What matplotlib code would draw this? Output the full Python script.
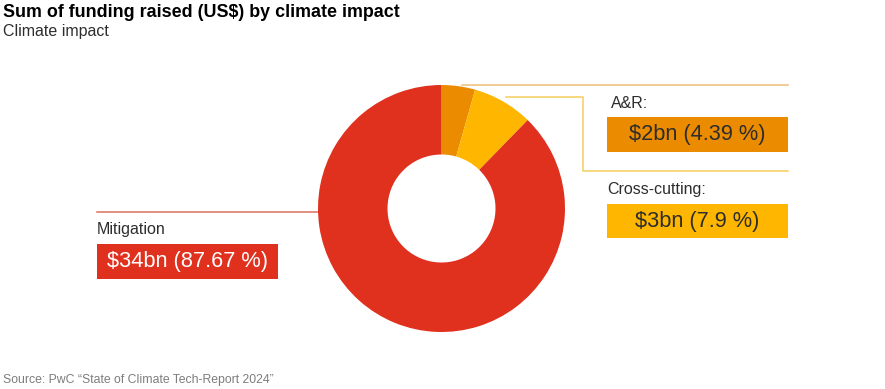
import matplotlib
matplotlib.use("Agg")
import matplotlib.pyplot as plt
import numpy as np
from matplotlib.patches import Rectangle

# data
categories = ["A&R", "Cross-cutting", "Mitigation"]
shares = [4.39, 7.9, 87.67]
amounts = ["$2bn", "$3bn", "$34bn"]
share_labels = ["4.39 %", "7.9 %", "87.67 %"]

RED = "#E0301E"
ORANGE = "#EB8C00"
YELLOW = "#FFB600"
colors = [ORANGE, YELLOW, RED]
TEXT = "#2D2D2D"

W, H = 885, 389
plt.rcParams["font.family"] = ["Liberation Sans", "DejaVu Sans"]

fig = plt.figure(figsize=(W / 100, H / 100), dpi=100, facecolor="white")
ax = fig.add_axes([0, 0, 1, 1])

cx, cy, R = 441.5, H - 208.5, 123.5
wedges, _ = ax.pie(shares, colors=colors, startangle=90, counterclock=False,
                   radius=R, center=(cx, cy),
                   wedgeprops=dict(width=R - 54, linewidth=0))
ax.set_xlim(0, W)
ax.set_ylim(0, H)
ax.set_aspect("equal")
ax.axis("off")


def outer_point(w, r=R):
    mid = np.deg2rad((w.theta1 + w.theta2) / 2)
    return cx + r * np.cos(mid), cy + r * np.sin(mid)


# leader lines
x0, y0 = outer_point(wedges[0])
ax.plot([x0 + 4, 788], [H - 85, H - 85], color="#EDBE78", lw=1.1, zorder=0)
x1, y1 = outer_point(wedges[1], R * 1.04)
ax.plot([x1, 583, 583, 788], [y1, y1, H - 171, H - 171], color="#F5CD5E", lw=1.1,
        zorder=0)
ax.plot([97, cx - R + 1], [H - 212, H - 212], color="#DD6F61", lw=1.1, zorder=0)

# label boxes: (name x, name y, box x0, box y0 (top), box x1, box y1 (bottom))
boxes = [
    (611, 103, 607, 117, 788, 152, TEXT, categories[0] + ":"),
    (607, 189, 607, 204, 788, 238, TEXT, categories[1] + ":"),
    (97, 229, 97, 244, 278, 279, "white", categories[2]),
]
for i, (nx, ny, bx0, by0, bx1, by1, tc, name) in enumerate(boxes):
    ax.text(nx, H - ny, name, fontsize=11.5, color=TEXT, va="center", ha="left")
    ax.add_patch(Rectangle((bx0, H - by1), bx1 - bx0, by1 - by0,
                           facecolor=colors[i], edgecolor="none"))
    ax.text((bx0 + bx1) / 2, H - (by0 + by1) / 2,
            "%s (%s)" % (amounts[i], share_labels[i]),
            fontsize=15.7, color=tc, va="center", ha="center")

ax.text(3, H - 12, "Sum of funding raised (US$) by climate impact", fontsize=12.9,
        fontweight="bold", color="black", va="center", ha="left")
ax.text(3, H - 31, "Climate impact", fontsize=11.5, color=TEXT, va="center",
        ha="left")
ax.text(3, H - 380, "Source: PwC \u201cState of Climate Tech-Report 2024\u201d",
        fontsize=8.8, color="#7D7D7D", va="center", ha="left")

fig.savefig("out.png", dpi=100, facecolor="white")
